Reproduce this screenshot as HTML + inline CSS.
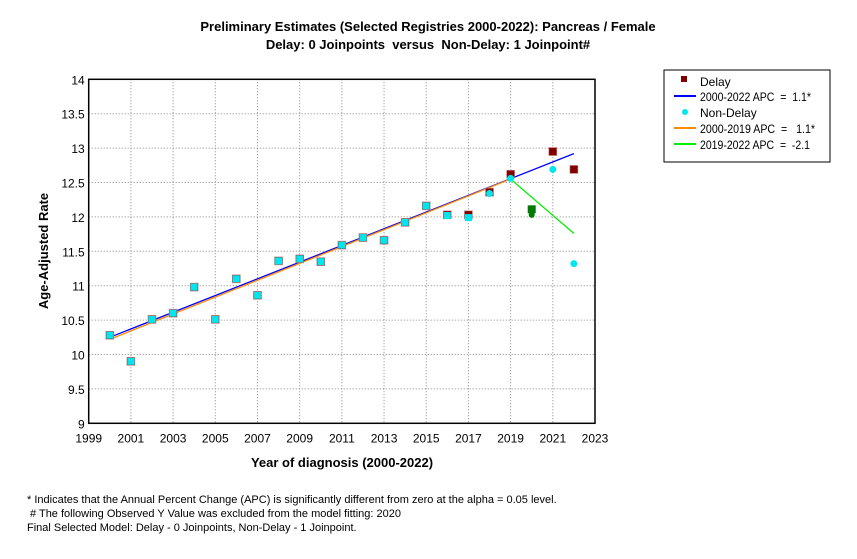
<!DOCTYPE html>
<html><head><meta charset="utf-8"><style>
body{margin:0;background:#fff;width:857px;height:554px;overflow:hidden;font-family:"Liberation Sans",sans-serif}
text{white-space:pre}
</style></head><body>
<svg id="s" width="857" height="554" xmlns="http://www.w3.org/2000/svg" font-family="Liberation Sans, sans-serif">
<rect width="857" height="554" fill="#fff"/>
<text x="428" y="31" text-anchor="middle" font-size="13" font-weight="bold">Preliminary Estimates (Selected Registries 2000-2022): Pancreas / Female</text>
<text x="428" y="49" text-anchor="middle" font-size="13" font-weight="bold">Delay: 0 Joinpoints  versus  Non-Delay: 1 Joinpoint#</text>
<text x="342" y="467" text-anchor="middle" font-size="13" font-weight="bold">Year of diagnosis (2000-2022)</text>
<text transform="translate(48,251) rotate(-90)" text-anchor="middle" font-size="13" font-weight="bold">Age-Adjusted Rate</text>
<text x="27" y="503" font-size="11">* Indicates that the Annual Percent Change (APC) is significantly different from zero at the alpha = 0.05 level.</text>
<text x="30" y="517" font-size="11"># The following Observed Y Value was excluded from the model fitting: 2020</text>
<text x="27" y="531" font-size="11">Final Selected Model: Delay - 0 Joinpoints, Non-Delay - 1 Joinpoint.</text>
<g id="g"></g>
<rect x="664" y="70" width="166" height="92" fill="none" stroke="#000" stroke-width="1"/>
<rect x="681" y="76" width="6" height="6" fill="#800000"/>
<text x="700" y="86" font-size="12">Delay</text>
<line x1="674" y1="96" x2="696" y2="96" stroke="#0000ff" stroke-width="2"/>
<text x="700" y="101" font-size="12" textLength="111" lengthAdjust="spacingAndGlyphs">2000-2022 APC  =  1.1*</text>
<circle cx="685" cy="112" r="3" fill="#00e5ee"/>
<text x="700" y="117" font-size="12">Non-Delay</text>
<line x1="674" y1="128" x2="696" y2="128" stroke="#ff8c00" stroke-width="2"/>
<text x="700" y="133" font-size="12" textLength="115" lengthAdjust="spacingAndGlyphs">2000-2019 APC  =   1.1*</text>
<line x1="674" y1="144" x2="696" y2="144" stroke="#00ee00" stroke-width="2"/>
<text x="700" y="149" font-size="12" textLength="110" lengthAdjust="spacingAndGlyphs">2019-2022 APC  =  -2.1</text>
</svg>
<script>
var L=88.7,R=595,T=79.3,B=423.3;
function X(y){return L+(y-1999)*(R-L)/24}
function Y(v){return B-(v-9)*(B-T)/5}
var h='';
for(var yr=2001;yr<=2021;yr+=2)h+='<line x1="'+X(yr)+'" y1="'+T+'" x2="'+X(yr)+'" y2="'+B+'" stroke="#888" stroke-dasharray="1,2"/>';
for(var v=9.5;v<14;v+=0.5)h+='<line x1="'+L+'" y1="'+Y(v)+'" x2="'+R+'" y2="'+Y(v)+'" stroke="#888" stroke-dasharray="1,2"/>';
h+='<rect x="'+L+'" y="'+T+'" width="'+(R-L)+'" height="'+(B-T)+'" fill="none" stroke="#000" stroke-width="1.5"/>';
for(var yr=1999;yr<=2023;yr+=2)h+='<text x="'+X(yr)+'" y="'+(B+19)+'" text-anchor="middle" font-size="12">'+yr+'</text>';
for(var v=9;v<=14;v+=0.5)h+='<text x="'+(L-4)+'" y="'+(Y(v)+5)+'" text-anchor="end" font-size="12">'+v+'</text>';
var d=[[2000,10.28,10.28],[2001,9.9,9.9],[2002,10.51,10.51],[2003,10.6,10.6],[2004,10.98,10.98],[2005,10.51,10.51],[2006,11.1,11.1],[2007,10.86,10.86],[2008,11.36,11.36],[2009,11.39,11.39],[2010,11.35,11.35],[2011,11.59,11.59],[2012,11.7,11.7],[2013,11.66,11.66],[2014,11.92,11.92],[2015,12.16,12.16],[2016,12.03,12.02],[2017,12.03,11.99],[2018,12.36,12.34],[2019,12.62,12.56],[2021,12.95,12.69],[2022,12.69,11.32]];
h+='<line x1="'+X(2000)+'" y1="'+Y(10.25)+'" x2="'+X(2022)+'" y2="'+Y(12.92)+'" stroke="#0000ff" stroke-width="1.3"/>';
h+='<line x1="'+X(2000)+'" y1="'+Y(10.22)+'" x2="'+X(2019)+'" y2="'+Y(12.55)+'" stroke="#ff8c00" stroke-width="1.3"/>';
h+='<line x1="'+X(2019)+'" y1="'+Y(12.55)+'" x2="'+X(2022)+'" y2="'+Y(11.76)+'" stroke="#00ee00" stroke-width="1.3"/>';
d.forEach(function(p){
 h+='<rect x="'+(X(p[0])-4)+'" y="'+(Y(p[1])-4)+'" width="8" height="8" fill="#800000" stroke="#c88" stroke-width="0.6"/>';
 if(p[0]<=2017)h+='<rect x="'+(X(p[0])-3.5)+'" y="'+(Y(p[2])-3.5)+'" width="7" height="7" fill="#00e5ee"/>';
 else h+='<circle cx="'+X(p[0])+'" cy="'+Y(p[2])+'" r="3.5" fill="#00e5ee"/>';
});
h+='<rect x="'+(X(2020)-4)+'" y="'+(Y(12.11)-4)+'" width="8" height="8" fill="#007a00"/>';
h+='<circle cx="'+X(2020)+'" cy="'+Y(12.03)+'" r="3" fill="#007a00"/>';
document.getElementById('g').innerHTML=h;
</script>
</body></html>
